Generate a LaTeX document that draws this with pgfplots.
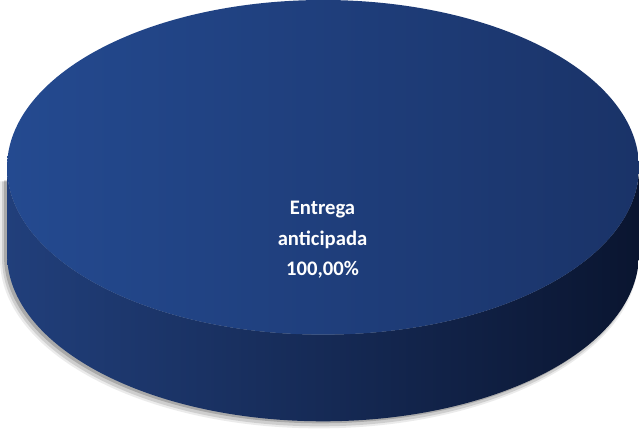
\documentclass[border=0pt]{standalone}
\usepackage{pgfplots}
\pgfplotsset{compat=1.18}
\usepackage{pgfplotstable}
\usepackage{fontspec}
\setmainfont{Carlito}

% one slice only
\pgfplotstableread{
label value
{Entrega anticipada} 100
}\piedata

\definecolor{topL}{HTML}{244A90}
\definecolor{topR}{HTML}{1A3368}
\definecolor{sideL}{HTML}{213F7B}
\definecolor{sideR}{HTML}{0A1530}

\begin{document}
\begin{tikzpicture}
\pgfplotstablegetelem{0}{value}\of\piedata
\global\let\pieval\pgfplotsretval
\pgfmathsetmacro{\endang}{90-3.6*\pieval}
\global\let\endang\endang
\begin{axis}[
    width=639pt, height=430pt, scale only axis,
    xmin=0, xmax=639, ymin=0, ymax=430,
    axis lines=none, ticks=none,
    clip=false,
    /pgf/number format/assume math mode=true,
]
% soft shadow (below and to the left)
\fill[black,opacity=0.08]
  (axis cs:4,240) -- (axis cs:4,163)
  arc[start angle=180,end angle=360,x radius=316.5,y radius=168]
  -- (axis cs:637,240) -- cycle;
\fill[black,opacity=0.12]
  (axis cs:6,240) -- (axis cs:6,164)
  arc[start angle=180,end angle=360,x radius=315,y radius=167]
  -- (axis cs:636,240) -- cycle;
\fill[black,opacity=0.18]
  (axis cs:8,241) -- (axis cs:8,166)
  arc[start angle=180,end angle=360,x radius=314,y radius=166]
  -- (axis cs:636,241) -- cycle;
% side
\shade[left color=sideL,right color=sideR]
  (axis cs:11,254) -- (axis cs:11,168)
  arc[start angle=180,end angle=360,x radius=313.5,y radius=166]
  -- (axis cs:638,254)
  arc[start angle=360,end angle=180,x radius=313.5,y radius=166] -- cycle;
% top face, slice from the value
\shade[left color=topL,right color=topR]
  (axis cs:324.5,420)
  arc[start angle=90,end angle=\endang,x radius=313.5,y radius=166] -- cycle;
\node[text=white,font=\bfseries\fontsize{20.5}{30.5}\selectfont,align=center]
  at (axis cs:324,182)
  {Entrega\\anticipada\\\pgfmathprintnumber[fixed,fixed zerofill,precision=2,use comma]{\pieval}\%};
\end{axis}
\end{tikzpicture}
\end{document}
